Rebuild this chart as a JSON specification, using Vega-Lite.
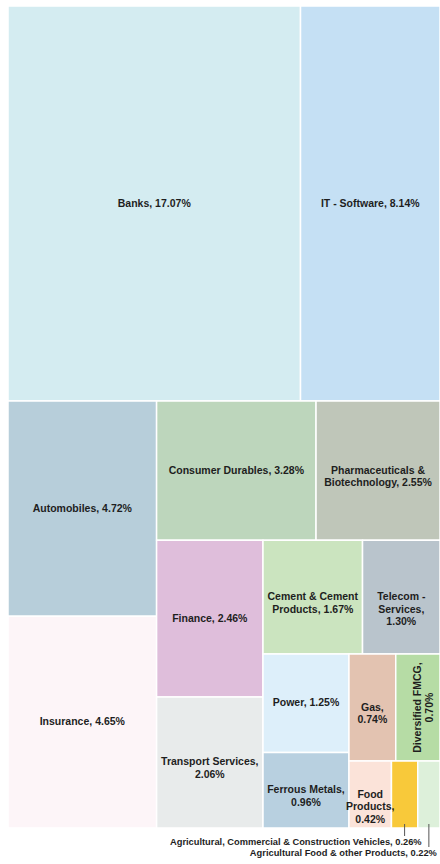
{
  "$schema": "https://vega.github.io/schema/vega-lite/v6.json",
  "autosize": {"type": "none"},
  "padding": {"left": 8, "top": 6, "right": 0, "bottom": 36},
  "width": 432,
  "height": 822,
  "background": "white",
  "config": {"view": {"stroke": null}},
  "data": {
    "values": [
      {"sector": "Banks", "label": "Banks, 17.07%", "value": 17.07, "strip": 1},
      {"sector": "IT - Software", "label": "IT - Software, 8.14%", "value": 8.14, "strip": 1},
      {"sector": "Automobiles", "label": "Automobiles, 4.72%", "value": 4.72, "strip": 2},
      {"sector": "Insurance", "label": "Insurance, 4.65%", "value": 4.65, "strip": 2},
      {"sector": "Consumer Durables", "label": "Consumer Durables, 3.28%", "value": 3.28, "strip": 3},
      {"sector": "Pharmaceuticals & Biotechnology", "label": "Pharmaceuticals &\nBiotechnology, 2.55%", "value": 2.55, "strip": 3},
      {"sector": "Finance", "label": "Finance, 2.46%", "value": 2.46, "strip": 4},
      {"sector": "Transport Services", "label": "Transport Services,\n2.06%", "value": 2.06, "strip": 4},
      {"sector": "Cement & Cement Products", "label": "Cement & Cement\nProducts, 1.67%", "value": 1.67, "strip": 5},
      {"sector": "Telecom - Services", "label": "Telecom -\nServices,\n1.30%", "value": 1.30, "strip": 5},
      {"sector": "Power", "label": "Power, 1.25%", "value": 1.25, "strip": 6},
      {"sector": "Ferrous Metals", "label": "Ferrous Metals,\n0.96%", "value": 0.96, "strip": 6},
      {"sector": "Gas", "label": "Gas,\n0.74%", "value": 0.74, "strip": 7},
      {"sector": "Diversified FMCG", "label": "Diversified FMCG,\n0.70%", "value": 0.70, "strip": 7},
      {"sector": "Food Products", "label": "Food\nProducts,\n0.42%", "value": 0.42, "strip": 8},
      {"sector": "Agricultural, Commercial & Construction Vehicles", "label": "Agricultural, Commercial & Construction Vehicles, 0.26%", "value": 0.26, "strip": 8},
      {"sector": "Agricultural Food & other Products", "label": "Agricultural Food & other Products, 0.22%", "value": 0.22, "strip": 8}
    ]
  },
  "transform": [
    {"window": [{"op": "sum", "field": "value", "as": "cum"}], "groupby": ["strip"], "sort": [{"field": "value", "order": "descending"}], "frame": [null, 0]},
    {"joinaggregate": [{"op": "sum", "field": "value", "as": "S"}], "groupby": ["strip"]},
    {"calculate": "datum.strip==1?datum.value:0", "as": "v1"},
    {"calculate": "datum.strip==2?datum.value:0", "as": "v2"},
    {"calculate": "datum.strip==3?datum.value:0", "as": "v3"},
    {"calculate": "datum.strip==4?datum.value:0", "as": "v4"},
    {"calculate": "datum.strip==5?datum.value:0", "as": "v5"},
    {"calculate": "datum.strip==6?datum.value:0", "as": "v6"},
    {"calculate": "datum.strip==7?datum.value:0", "as": "v7"},
    {"joinaggregate": [
      {"op": "sum", "field": "v1", "as": "S1"},
      {"op": "sum", "field": "v2", "as": "S2"},
      {"op": "sum", "field": "v3", "as": "S3"},
      {"op": "sum", "field": "v4", "as": "S4"},
      {"op": "sum", "field": "v5", "as": "S5"},
      {"op": "sum", "field": "v6", "as": "S6"},
      {"op": "sum", "field": "v7", "as": "S7"},
      {"op": "sum", "field": "value", "as": "T"}
    ]},
    {"calculate": "datum.S1/datum.T", "as": "Y2"},
    {"calculate": "1-datum.Y2", "as": "H2"},
    {"calculate": "(datum.S2/datum.T)/datum.H2", "as": "X3"},
    {"calculate": "1-datum.X3", "as": "W3"},
    {"calculate": "datum.Y2+(datum.S3/datum.T)/datum.W3", "as": "Y4"},
    {"calculate": "1-datum.Y4", "as": "H4"},
    {"calculate": "datum.X3+(datum.S4/datum.T)/datum.H4", "as": "X5"},
    {"calculate": "1-datum.X5", "as": "W5"},
    {"calculate": "datum.Y4+(datum.S5/datum.T)/datum.W5", "as": "Y6"},
    {"calculate": "1-datum.Y6", "as": "H6"},
    {"calculate": "datum.X5+(datum.S6/datum.T)/datum.H6", "as": "X7"},
    {"calculate": "1-datum.X7", "as": "W7"},
    {"calculate": "datum.Y6+(datum.S7/datum.T)/datum.W7", "as": "Y8"},
    {"calculate": "datum.strip<=2?0:(datum.strip<=4?datum.X3:(datum.strip<=6?datum.X5:datum.X7))", "as": "sx0"},
    {"calculate": "datum.strip==2?datum.X3:(datum.strip==4?datum.X5:(datum.strip==6?datum.X7:1))", "as": "sx1"},
    {"calculate": "datum.strip==1?0:(datum.strip<=3?datum.Y2:(datum.strip<=5?datum.Y4:(datum.strip<=7?datum.Y6:datum.Y8)))", "as": "sy0"},
    {"calculate": "datum.strip==1?datum.Y2:(datum.strip==3?datum.Y4:(datum.strip==5?datum.Y6:(datum.strip==7?datum.Y8:1)))", "as": "sy1"},
    {"calculate": "datum.strip==2||datum.strip==4||datum.strip==6?0:1", "as": "horiz"},
    {"calculate": "(datum.cum-datum.value)/datum.S", "as": "f0"},
    {"calculate": "datum.cum/datum.S", "as": "f1"},
    {"calculate": "datum.horiz?datum.sx0+datum.f0*(datum.sx1-datum.sx0):datum.sx0", "as": "x0"},
    {"calculate": "datum.horiz?datum.sx0+datum.f1*(datum.sx1-datum.sx0):datum.sx1", "as": "x1"},
    {"calculate": "datum.horiz?datum.sy0:datum.sy0+datum.f0*(datum.sy1-datum.sy0)", "as": "y0"},
    {"calculate": "datum.horiz?datum.sy1:datum.sy0+datum.f1*(datum.sy1-datum.sy0)", "as": "y1"},
    {"calculate": "(datum.x0+datum.x1)/2", "as": "xc"},
    {"calculate": "(datum.y0+datum.y1)/2", "as": "yc"}
  ],
  "layer": [
    {
      "mark": {"type": "rect", "stroke": "white", "strokeWidth": 1.5},
      "encoding": {
        "x": {"field": "x0", "type": "quantitative", "scale": {"domain": [0, 1], "nice": false, "zero": false}, "axis": null},
        "x2": {"field": "x1"},
        "y": {"field": "y0", "type": "quantitative", "scale": {"domain": [0, 1], "nice": false, "zero": false, "reverse": true}, "axis": null},
        "y2": {"field": "y1"},
        "color": {
          "field": "sector", "type": "nominal", "legend": null,
          "scale": {
            "domain": ["Banks", "IT - Software", "Automobiles", "Insurance", "Consumer Durables", "Pharmaceuticals & Biotechnology", "Finance", "Transport Services", "Cement & Cement Products", "Telecom - Services", "Power", "Ferrous Metals", "Gas", "Diversified FMCG", "Food Products", "Agricultural, Commercial & Construction Vehicles", "Agricultural Food & other Products"],
            "range": ["#d4ecf1", "#c5e0f4", "#b7ceda", "#fdf5f8", "#bdd6bc", "#bfc6b9", "#dfbedb", "#e8ebeb", "#cbe4bf", "#b9c4cc", "#ddeffa", "#b8d0e0", "#e3c3b1", "#b6dca5", "#fbe3d9", "#f8c93a", "#ddf0da"]
          }
        }
      }
    },
    {
      "transform": [{"filter": "datum.strip < 8 || datum.sector == 'Food Products'"}],
      "mark": {"type": "text", "font": "Liberation Sans", "fontWeight": "bold", "fontSize": 10.5, "fill": "#1e1e1e", "lineBreak": "\n", "lineHeight": 12.5, "align": "center", "baseline": "middle"},
      "encoding": {
        "x": {"field": "xc", "type": "quantitative"},
        "y": {"field": "yc", "type": "quantitative"},
        "text": {"field": "label"},
        "angle": {"condition": {"test": "datum.sector == 'Diversified FMCG'", "value": 270}, "value": 0}
      }
    },
    {
      "transform": [{"filter": "datum.sector == 'Agricultural, Commercial & Construction Vehicles'"}],
      "mark": {"type": "rule", "color": "#555555", "strokeWidth": 1, "yOffset": -4, "y2Offset": 8},
      "encoding": {
        "x": {"field": "xc", "type": "quantitative"},
        "y": {"field": "y1", "type": "quantitative"},
        "y2": {"field": "y1"}
      }
    },
    {
      "transform": [{"filter": "datum.sector == 'Agricultural Food & other Products'"}],
      "mark": {"type": "rule", "color": "#555555", "strokeWidth": 1, "yOffset": -4, "y2Offset": 19},
      "encoding": {
        "x": {"field": "xc", "type": "quantitative"},
        "y": {"field": "y1", "type": "quantitative"},
        "y2": {"field": "y1"}
      }
    },
    {
      "transform": [{"filter": "datum.sector == 'Agricultural, Commercial & Construction Vehicles'"}],
      "mark": {"type": "text", "font": "Liberation Sans", "fontWeight": "bold", "fontSize": 9.3, "fill": "#1e1e1e", "align": "right", "baseline": "middle", "dx": 17, "dy": 14},
      "encoding": {
        "x": {"field": "xc", "type": "quantitative"},
        "y": {"field": "y1", "type": "quantitative"},
        "text": {"field": "label"}
      }
    },
    {
      "transform": [{"filter": "datum.sector == 'Agricultural Food & other Products'"}],
      "mark": {"type": "text", "font": "Liberation Sans", "fontWeight": "bold", "fontSize": 9.3, "fill": "#1e1e1e", "align": "right", "baseline": "middle", "dx": 8, "dy": 25},
      "encoding": {
        "x": {"field": "xc", "type": "quantitative"},
        "y": {"field": "y1", "type": "quantitative"},
        "text": {"field": "label"}
      }
    }
  ]
}
